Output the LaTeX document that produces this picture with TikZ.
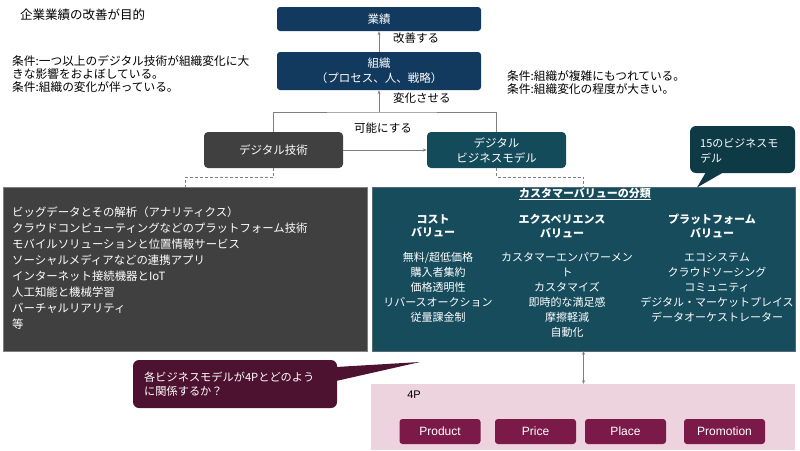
\documentclass[tikz,border=0pt]{standalone}
\usepackage{fontspec}
\setmainfont{Noto Sans CJK JP}
\newfontfamily\latfont{Liberation Sans}
\usetikzlibrary{arrows.meta,calc}
\definecolor{navy}{HTML}{12395E}
\definecolor{dtgray}{HTML}{404040}
\definecolor{dbmteal}{HTML}{144B5A}
\definecolor{bigteal}{HTML}{164C5C}
\definecolor{callteal}{HTML}{0E3A45}
\definecolor{maroon}{HTML}{4D1230}
\definecolor{pinkbg}{HTML}{ECD3DE}
\definecolor{btn}{HTML}{7B1A48}
\definecolor{conn}{HTML}{7F7F7F}
\begin{document}
\begin{tikzpicture}[x=1pt,y=-1pt,
  fs/.style={font=\fontsize{11.7}{13.3}\selectfont},
  topbox/.style={fill=navy, rounded corners=3pt, text=white, minimum width=204pt, inner sep=0pt, align=center, font=\fontsize{11.5}{15}\selectfont},
  midbox/.style={rounded corners=4pt, text=white, minimum width=139pt, minimum height=36pt, inner sep=0pt, align=center, font=\fontsize{11.5}{15}\selectfont},
  bigbox/.style={inner sep=0pt, minimum height=164pt, draw=#1},
  conn/.style={draw=conn, line width=0.7pt},
  arr/.style={conn, -{Stealth[length=4pt,width=3pt]}},
  dashconn/.style={draw=conn, line width=0.7pt, dash pattern=on 3pt off 2pt},
  lbl/.style={font=\fontsize{11.5}{14}\selectfont, inner sep=0pt},
  colhead/.style={text=white, align=center, font=\fontsize{11}{13.5}\selectfont\bfseries, inner sep=0pt},
  colitem/.style={text=white, align=center, font=\fontsize{11}{15}\selectfont, inner sep=0pt, anchor=north},
  pbtn/.style={fill=btn, rounded corners=3pt, text=white, minimum width=81pt, minimum height=25pt, inner sep=0pt, font=\latfont\fontsize{12}{14}\selectfont}
]
\useasboundingbox (0,0) rectangle (800,450);
\fill[white] (0,0) rectangle (800,450);

% top-left texts
\node[font=\fontsize{12.5}{14}\selectfont, inner sep=0pt, anchor=west] (goal) at (20,15) {企業業績の改善が目的};
\node[fs, anchor=north west, align=left, inner sep=0pt] (cond1) at (12,55) {条件:一つ以上のデジタル技術が組織変化に大\\きな影響をおよぼしている。\\条件:組織の変化が伴っている。};
\node[fs, anchor=north west, align=left, inner sep=0pt] (cond2) at (507,70.5) {条件:組織が複雑にもつれている。\\条件:組織変化の程度が大きい。};

% top boxes
\node[topbox, minimum height=24pt] (perf) at (379,19) {業績};
\node[topbox, minimum height=38pt] (org) at (379,71) {組織\\（プロセス、人、戦略）};

\node[midbox, fill=dtgray] (dt) at (273.5,150) {デジタル技術};
\node[midbox, fill=dbmteal] (dbm) at (496.5,150) {デジタル\\ビジネスモデル};

% connectors
\coordinate (j) at (org.south |- 0,112);
\draw[conn] (dt.north) |- (j) -| (dbm.north);
\draw[arr] (j) -- (org.south);
\draw[arr] (org.north) -- (perf.south);
\draw[arr] (dt.east) -- (dbm.west);
\node[lbl, anchor=west] (l1) at (393,38) {改善する};
\node[lbl, anchor=west] (l2) at (393,98) {変化させる};
\node[lbl] (l3) at (383,128) {可能にする};

% big boxes
\node[bigbox=conn, fill=dtgray, minimum width=364pt] (gray) at (185,269) {};
\node[bigbox=conn!60!bigteal, fill=bigteal, minimum width=423pt] (teal) at (583.5,269) {};
\draw[dashconn] (dt.south) -- ++(0,9) -| (gray.north);
\draw[dashconn] (dbm.south) -- ++(0,9) -| (teal.north);

\node[anchor=north west, align=left, text=white, inner sep=0pt, font=\fontsize{11.4}{16}\selectfont] (techs) at (12,207) {ビッグデータとその解析（アナリティクス）\\クラウドコンピューティングなどのプラットフォーム技術\\モバイルソリューションと位置情報サービス\\ソーシャルメディアなどの連携アプリ\\インターネット接続機器とIoT\\人工知能と機械学習\\バーチャルリアリティ\\等};

% teal box contents
\node[colhead] (cvt) at (585,194) {\underline{カスタマーバリューの分類}};
\node[colhead] (h1) at (433,226) {コスト\\バリュー};
\node[colhead] (h2) at (562,226) {エクスペリエンス\\バリュー};
\node[colhead] (h3) at (712,226) {プラットフォーム\\バリュー};
\node[colitem] (c1) at (438,252.5) {無料/超低価格\\購入者集約\\価格透明性\\リバースオークション\\従量課金制};
\node[colitem] (c2) at (567,252.5) {カスタマーエンパワーメン\\ト\\カスタマイズ\\即時的な満足感\\摩擦軽減\\自動化};
\node[colitem] (c3) at (717,252.5) {エコシステム\\クラウドソーシング\\コミュニティ\\デジタル・マーケットプレイス\\データオーケストレーター};

% callout 15
\node[fill=callteal, rounded corners=6pt, minimum width=105pt, minimum height=47pt, inner sep=0pt] (bm15) at (742.5,149.5) {};
\fill[callteal] (706,172) -- (697,187.5) -- (724,172) -- cycle;
\node[anchor=north west, align=left, text=white, inner sep=0pt, font=\fontsize{11}{15.5}\selectfont] (bm15t) at (700,138) {15のビジネスモ\\デル};

% pink area
\node[fill=pinkbg, minimum width=424pt, minimum height=66pt, inner sep=0pt] (pink) at (583,417) {};
\draw[conn, {Stealth[length=3.5pt,width=3pt]}-{Stealth[length=3.5pt,width=3pt]}] (teal.south) -- (teal.south |- pink.north);
\node[inner sep=0pt, font=\latfont\fontsize{11}{13}\selectfont] (fourp) at (414,395) {4P};
\node[pbtn] (prod) at (440,431.5) {Product};
\node[pbtn] (price) at (535.5,431.5) {Price};
\node[pbtn] (place) at (625.5,431.5) {Place};
\node[pbtn] (promo) at (724.5,431.5) {Promotion};

% maroon callout
\node[fill=maroon, rounded corners=6pt, minimum width=204pt, minimum height=48pt, inner sep=0pt] (q) at (235,384) {};
\fill[maroon] (336,367) -- (420,362) -- (336,381) -- cycle;
\node[anchor=north west, align=left, text=white, inner sep=0pt, font=\fontsize{11.2}{14.5}\selectfont] (qt) at (144,371.5) {各ビジネスモデルが4Pとどのよう\\に関係するか？};
\end{tikzpicture}
\end{document}
